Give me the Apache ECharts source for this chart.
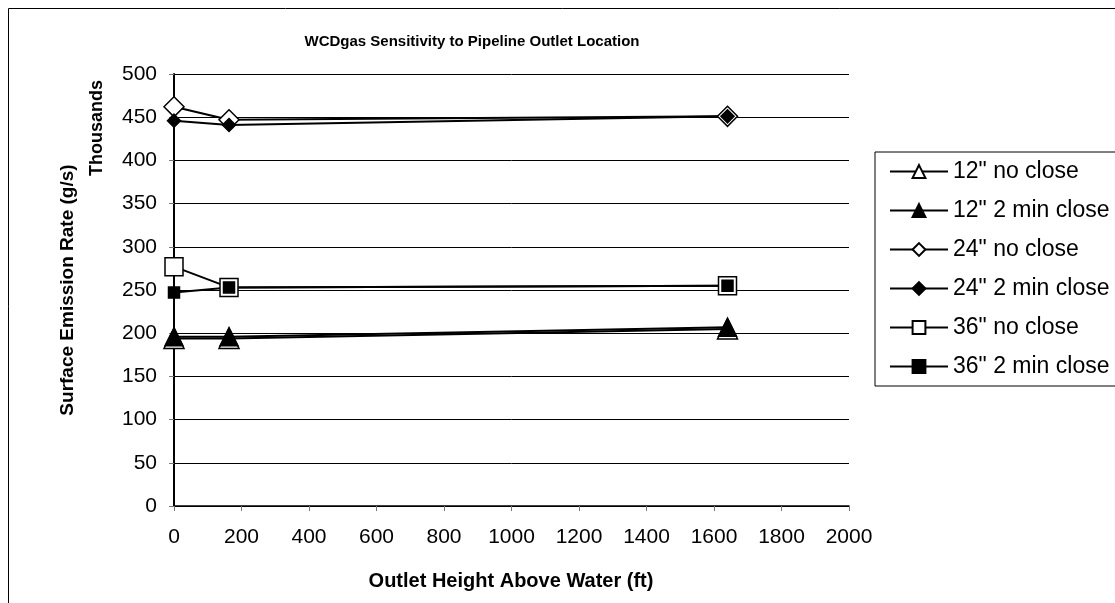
<!DOCTYPE html>
<html>
<head>
<meta charset="utf-8">
<script src="https://cdn.jsdelivr.net/npm/echarts@6/dist/echarts.min.js"></script>
<style>
  html, body { margin: 0; padding: 0; background: #fff; }
  #chart { width: 1115px; height: 603px; }
</style>
</head>
<body>
<div id="chart"></div>
<script>
/* ---------- data ---------- */
const outletHeights = [0, 163, 1640]
const no12 = [194, 194, 205]
const close12 = [196, 196, 207]
const no24 = [462, 447, 451]
const close24 = [446, 441, 451]
const no36 = [277, 253, 255]
const close36 = [247, 253, 255]
const seriesNames = ['12" no close', '12" 2 min close', '24" no close', '24" 2 min close', '36" no close', '36" 2 min close']

const FONT = 'Liberation Sans, Arial, sans-serif'

function pts(ys) {
  return outletHeights.map((x, i) => [x, ys[i]])
}

/** one black line series, open (white) or filled marker */
function makeSeries(name, ys, symbol, size, open) {
  return {
    name: name,
    type: 'line',
    data: pts(ys),
    symbol: symbol,
    symbolSize: size,
    lineStyle: { color: '#000', width: 2 },
    itemStyle: {
      color: open ? '#fff' : '#000',
      borderColor: '#000',
      borderWidth: 1.5
    },
    emphasis: { disabled: true },
    animation: false
  }
}

const chart = echarts.init(document.getElementById('chart'))

chart.setOption({
  animation: false,
  textStyle: { fontFamily: FONT },
  grid: { left: 174, top: 74, right: 266, bottom: 97 },
  xAxis: {
    type: 'value',
    min: 0,
    max: 2000,
    interval: 200,
    splitLine: { show: false },
    axisLine: { onZero: false, lineStyle: { color: '#000', width: 1.5 } },
    axisTick: { show: true, length: 5, lineStyle: { color: '#777' } },
    axisLabel: { color: '#000', fontSize: 21, margin: 21, fontFamily: FONT, formatter: (v) => String(v) }
  },
  yAxis: {
    type: 'value',
    min: 0,
    max: 500,
    interval: 50,
    splitLine: { show: true, lineStyle: { color: '#000', width: 1 } },
    axisLine: { show: true, lineStyle: { color: '#000', width: 2 } },
    axisTick: { show: true, length: 5, lineStyle: { color: '#777' } },
    axisLabel: { color: '#000', fontSize: 21, margin: 17, fontFamily: FONT, formatter: (v) => String(v) }
  },
  legend: {
    orient: 'vertical',
    left: 875,
    top: 152,
    padding: [8, 80, 8, 14],
    itemWidth: 58,
    itemHeight: 16,
    itemGap: 16,
    itemTextGap: 5,
    backgroundColor: '#fff',
    borderColor: '#000',
    borderWidth: 1,
    textStyle: { color: '#000', fontSize: 23, fontFamily: FONT },
    data: seriesNames
  },
  graphic: [
    {
      type: 'rect',
      shape: { x: 8.5, y: 8.5, width: 1200, height: 700 },
      style: { fill: 'none', stroke: '#000', lineWidth: 1 },
      z: -10
    },
    {
      type: 'text',
      x: 472,
      y: 42,
      style: {
        text: 'WCDgas Sensitivity to Pipeline Outlet Location',
        font: 'bold 15px ' + FONT,
        fill: '#000',
        align: 'center',
        verticalAlign: 'middle'
      }
    },
    {
      type: 'text',
      x: 68,
      y: 290,
      rotation: Math.PI / 2,
      style: {
        text: 'Surface Emission Rate (g/s)',
        font: 'bold 19px ' + FONT,
        fill: '#000',
        align: 'center',
        verticalAlign: 'middle'
      }
    },
    {
      type: 'text',
      x: 97,
      y: 128,
      rotation: Math.PI / 2,
      style: {
        text: 'Thousands',
        font: 'bold 18px ' + FONT,
        fill: '#000',
        align: 'center',
        verticalAlign: 'middle'
      }
    },
    {
      type: 'text',
      x: 511,
      y: 581,
      style: {
        text: 'Outlet Height Above Water (ft)',
        font: 'bold 20px ' + FONT,
        fill: '#000',
        align: 'center',
        verticalAlign: 'middle'
      }
    }
  ],
  series: [
    makeSeries(seriesNames[0], no12, 'triangle', 20, true),
    makeSeries(seriesNames[1], close12, 'triangle', 18, false),
    makeSeries(seriesNames[2], no24, 'diamond', 20, true),
    makeSeries(seriesNames[3], close24, 'diamond', 13, false),
    makeSeries(seriesNames[4], no36, 'rect', 18, true),
    makeSeries(seriesNames[5], close36, 'rect', 11, false)
  ]
})
</script>
</body>
</html>
